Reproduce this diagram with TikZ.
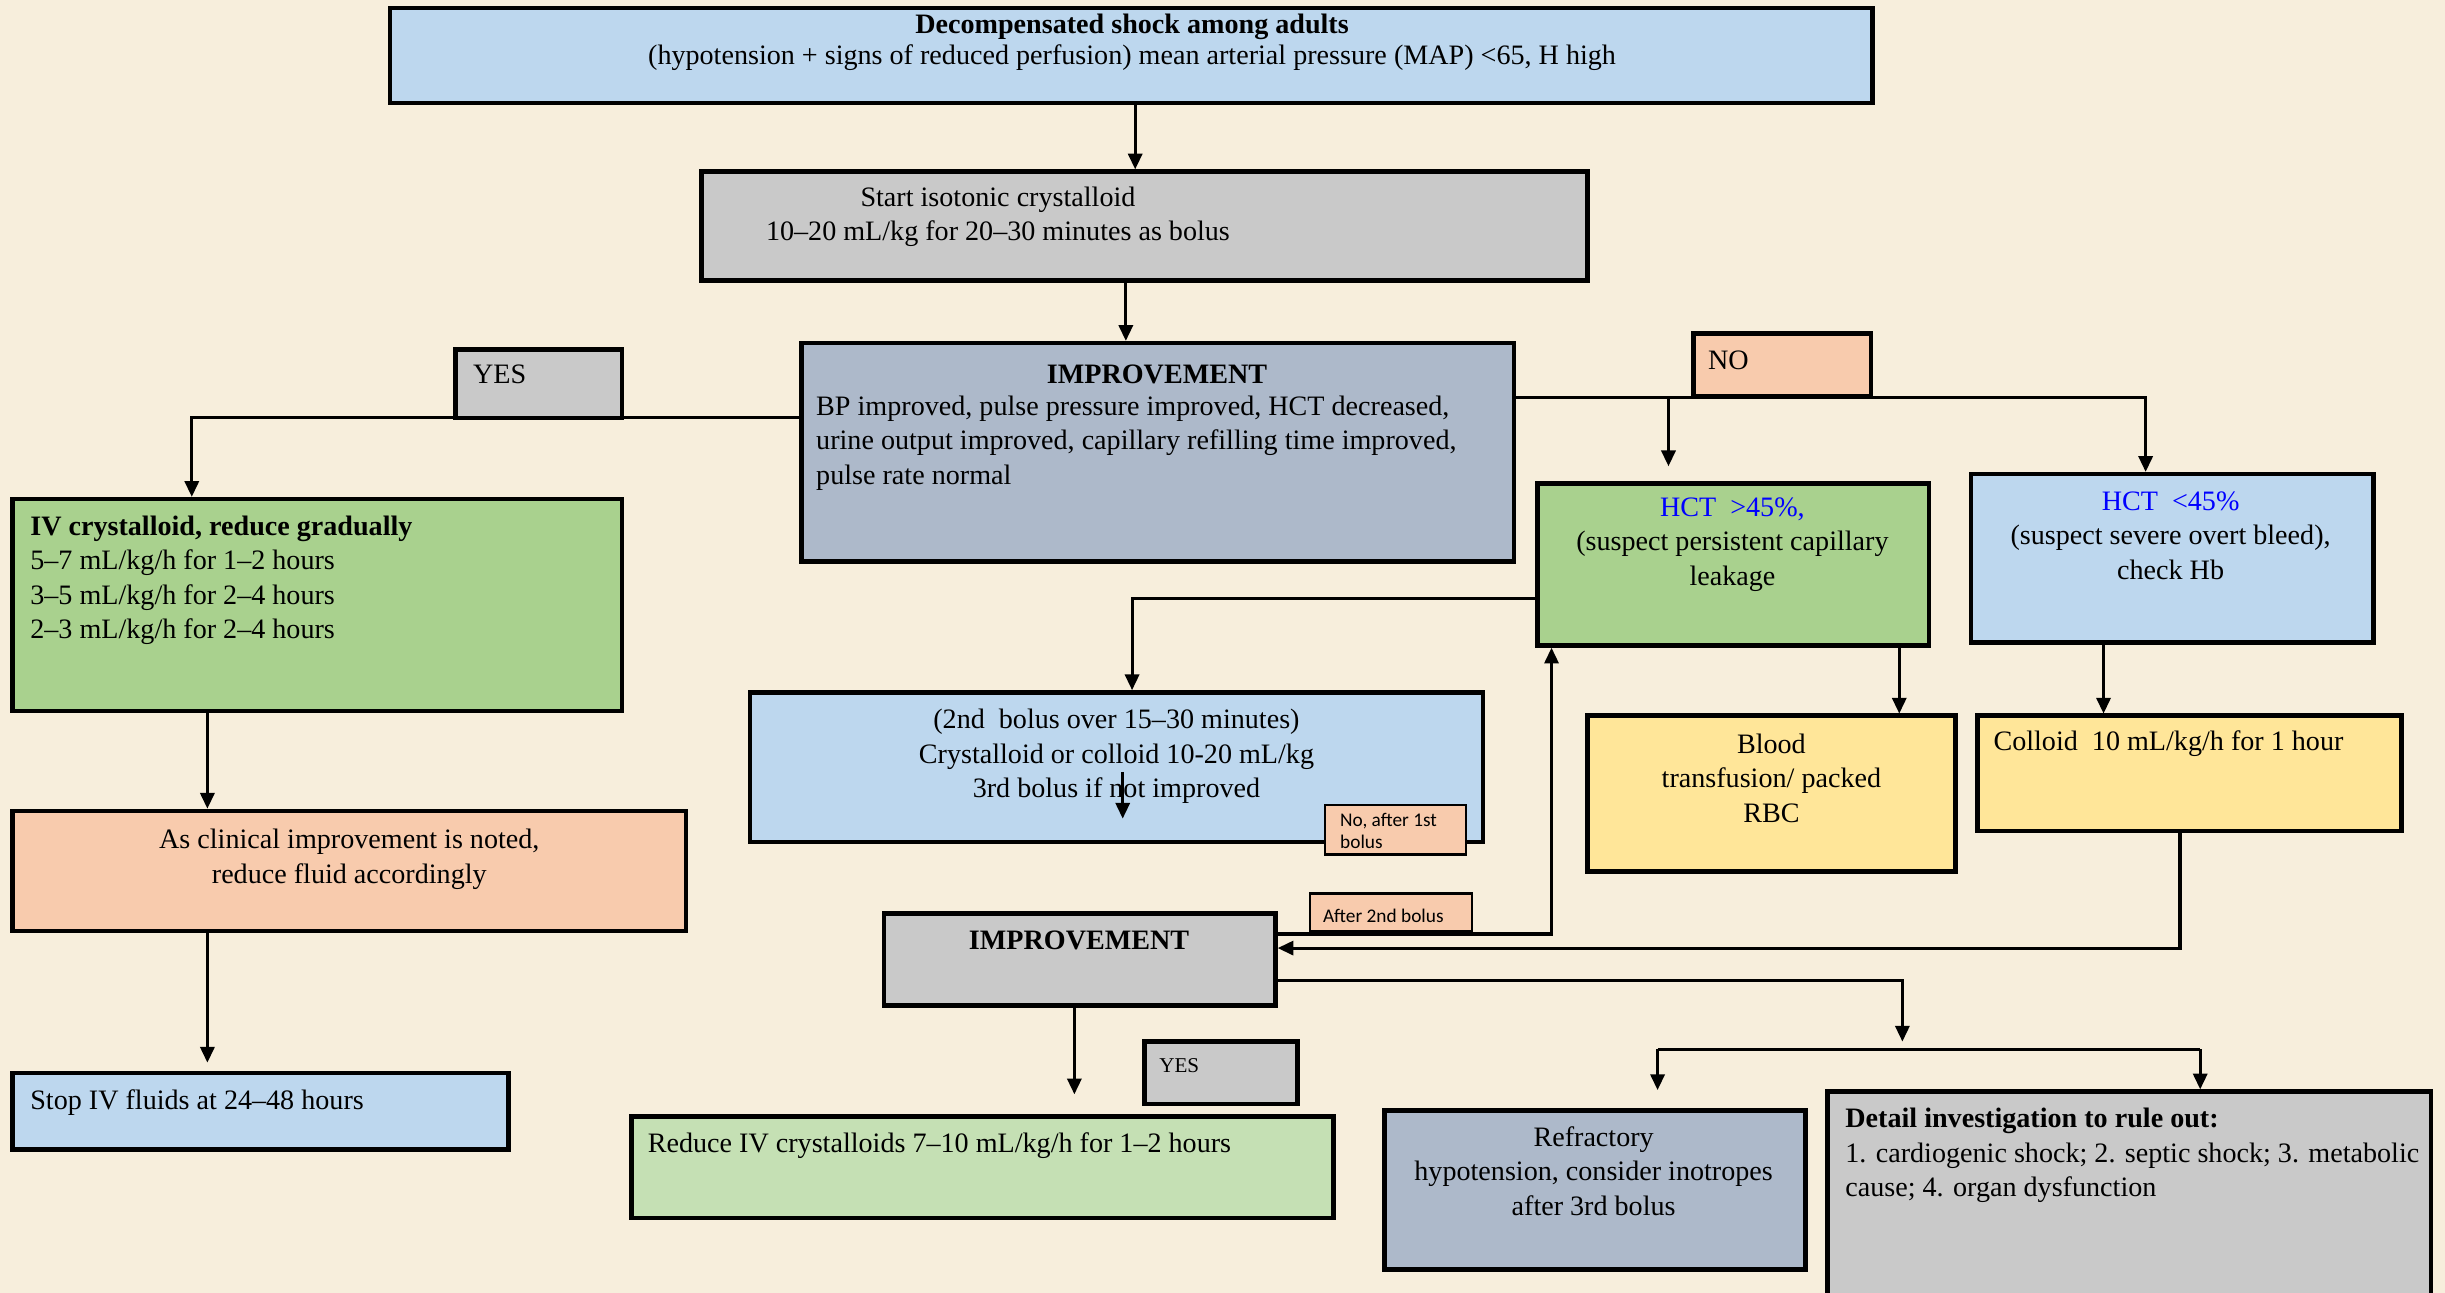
\documentclass[tikz,border=0pt]{standalone}
\usepackage{fontspec}
\setmainfont{Liberation Serif}
\newfontfamily\calib{Carlito}
\usetikzlibrary{arrows.meta}

\definecolor{paper}{HTML}{F7EEDC}
\definecolor{lblue}{HTML}{BDD7EE}
\definecolor{lgray}{HTML}{C9C9C9}
\definecolor{slate}{HTML}{ADB9CA}
\definecolor{lgreen}{HTML}{A9D18E}
\definecolor{pgreen}{HTML}{C5E0B4}
\definecolor{salmon}{HTML}{F8CBAD}
\definecolor{lyellow}{HTML}{FFE699}

% strut fixing the height of a first text line
\newcommand\fl{\rule{0pt}{7pt}}
\newcommand\fls{\rule{0pt}{5pt}}

% box from its corners: name, style, x1, y1, x2, y2
\newcommand\mkbox[6]{%
  \node[box,#2,minimum width={(#5-#3)*0.015593cm},minimum height={(#6-#4)*0.015593cm}]
    (#1) at ({(#3+#5)/2},{(#4+#6)/2}) {};}

\tikzset{
  box/.style={draw=black,line width=1.3pt,inner sep=0pt,outer sep=0.6pt},
  tag/.style={fill=salmon,line width=0.6pt,outer sep=0.3pt},
  txt/.style={inner sep=0pt,anchor=north},
  txtl/.style={inner sep=0pt,anchor=north west,align=left},
  conn/.style={line width=0.9pt},
  arr/.style={conn,-{Triangle[length=4.5pt,width=4pt]}},
}

\begin{document}
\begin{tikzpicture}[x=0.015593cm,y=-0.015593cm,font=\fontsize{8}{9.8}\selectfont]
\fill[paper] (0,0) rectangle (1568,829);
\useasboundingbox (0,0) rectangle (1568,829);
\clip (0,0) rectangle (1568,829);

% boxes
\mkbox{top}{fill=lblue}{250}{5}{1201}{66}
\mkbox{start}{fill=lgray}{450}{110}{1018}{180}
\mkbox{imp1}{fill=slate}{514}{220}{971}{360}
\mkbox{ivc}{fill=lgreen}{8}{320}{399}{456}
\mkbox{clin}{fill=salmon}{8}{520}{440}{597}
\mkbox{stop}{fill=lblue}{8}{688}{326}{737}
\mkbox{hct1}{fill=lgreen}{986}{310}{1237}{414}
\mkbox{hct2}{fill=lblue}{1264}{304}{1522}{412}
\mkbox{blood}{fill=lyellow}{1018}{459}{1254}{559}
\mkbox{colloid}{fill=lyellow}{1268}{459}{1540}{533}
\mkbox{bolus}{fill=lblue}{481}{444}{951}{540}
\mkbox{imp2}{fill=lgray}{567}{586}{818}{645}
\mkbox{reduce}{fill=pgreen}{405}{716}{855}{781}
\mkbox{refr}{fill=slate}{888}{712}{1158}{814}
\mkbox{detail}{fill=lgray}{1172}{700}{1559}{845}

% connectors
\coordinate (noSplit) at (1070,255);
\coordinate (bIn) at (720,495);
\coordinate (bOut) at (720,525);
\coordinate (low) at (1220,668);
\coordinate (forkL) at (1063,673);
\coordinate (forkR) at (1411,673);

\draw[arr] (top.south -| 728,0) -- (start.north -| 728,0);
\draw[arr] (start.south -| 722,0) -- (imp1.north -| 722,0);
\draw[arr] (imp1.west |- 0,268) -| (ivc.north -| 123,0);
\draw[arr] (imp1.east |- 0,255) -| (hct2.north -| 1376,0);
\draw[arr,shorten >=1.5mm] (noSplit) -- (hct1.north -| noSplit);
\draw[arr] (hct1.south -| 1218,0) -- (blood.north -| 1218,0);
\draw[arr] (hct2.south -| 1349,0) -- (colloid.north -| 1349,0);
\draw[arr] (hct1.west |- 0,384) -| (bolus.north -| 726,0);
\draw[arr] (bIn) -- (bOut);
\draw[arr] (imp2.east |- 0,599) -| (hct1.south -| 995,0);
\draw[arr] (colloid.south -| 1398,0) |- (imp2.east |- 0,608);
\draw[arr] (imp2.east |- 0,629) -| (low);
\draw[conn] (forkL) -- (forkR);
\draw[arr,shorten >=1.8mm] (forkL) -- (refr.north -| forkL);
\draw[arr] (forkR) -- (detail.north -| forkR);
\draw[arr] (ivc.south -| 133,0) -- (clin.north -| 133,0);
\draw[arr,shorten >=0.8mm] (clin.south -| 133,0) -- (stop.north -| 133,0);
\draw[arr,shorten >=2mm] (imp2.south -| 689,0) -- (reduce.north -| 689,0);

% labels sitting on the connectors
\mkbox{yes1}{fill=lgray}{292}{224}{399}{268}
\mkbox{no}{fill=salmon}{1086}{214}{1200}{254}
\mkbox{yes2}{fill=lgray}{734}{668}{832}{708}
\mkbox{lab1}{tag}{850}{516}{940}{548}
\mkbox{lab2}{tag}{840}{573}{944}{597}

% texts
\node[txt,align=center] (t0) at (726,5)
  {\fl\textbf{Decompensated shock among adults}\\[-1pt]
   (hypotension + signs of reduced perfusion) mean arterial pressure (MAP) <65, H high};
\node[txt,align=center] (t1) at (640,116)
  {\fl Start isotonic crystalloid\\10–20 mL/kg for 20–30 minutes as bolus};
\node[txt] (t2a) at (742,230) {\fl\textbf{IMPROVEMENT}};
\node[txtl] (t2b) at (523,250)
  {\fl BP improved, pulse pressure improved, HCT decreased,\\
   urine output improved, capillary refilling time improved,\\
   pulse rate normal};
\node[txtl] (t3) at (303,230) {\fl YES};
\node[txtl] (t4) at (19,327)
  {\fl\textbf{IV crystalloid, reduce gradually}\\
   5–7 mL/kg/h for 1–2 hours\\3–5 mL/kg/h for 2–4 hours\\2–3 mL/kg/h for 2–4 hours};
\node[txt,align=center] (t5) at (224,528)
  {\fl As clinical improvement is noted,\\reduce fluid accordingly};
\node[txtl] (t6) at (19,695) {\fl Stop IV fluids at 24–48 hours};
\node[txtl] (t7) at (1095,221) {\fl NO};
\node[txt,align=center] (t8) at (1111,315)
  {\fl{\color{blue}HCT \ >45\%,}\\(suspect persistent capillary\\leakage};
\node[txt,align=center] (t9) at (1392,311)
  {\fl{\color{blue}HCT \ <45\%}\\(suspect severe overt bleed),\\check Hb};
\node[txt,align=center] (t10) at (1136,467)
  {\fl Blood\\transfusion/ packed\\RBC};
\node[txtl] (t11) at (1278,465) {\fl Colloid \ 10 mL/kg/h for 1 hour};
\node[txt,align=center] (t12) at (716,451)
  {\fl(2nd \ bolus over 15–30 minutes)\\Crystalloid or colloid 10-20 mL/kg\\3rd bolus if not improved};
\node[txtl,font=\calib\fontsize{5.5}{6.4}\selectfont] (t13) at (859,518)
  {\fls No, after 1st\\bolus};
\node[txtl,font=\calib\fontsize{5.5}{6.4}\selectfont] (t14) at (848,580)
  {\fls After 2nd bolus};
\node[txt] (t15) at (692,593) {\fl\textbf{IMPROVEMENT}};
\node[txtl,font=\fontsize{6}{7}\selectfont] (t16) at (743,676) {\fls YES};
\node[txtl] (t17) at (415,723) {\fl Reduce IV crystalloids 7–10 mL/kg/h for 1–2 hours};
\node[txt,align=center] (t18) at (1022,719)
  {\fl Refractory\\hypotension, consider inotropes\\after 3rd bolus};
\node[txtl] (t19) at (1183,707)
  {\fl\textbf{Detail investigation to rule out:}\\
   1. cardiogenic shock; 2. septic shock; 3. metabolic\\cause; 4. organ dysfunction};
\end{tikzpicture}
\end{document}
